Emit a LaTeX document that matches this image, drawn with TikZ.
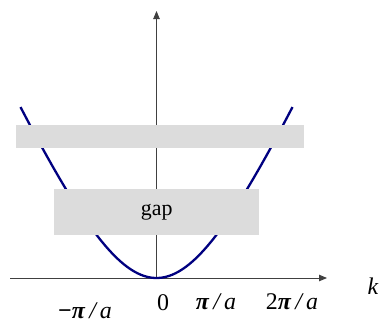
\documentclass[tikz,border=0pt]{standalone}
\usepackage{fontspec}
\setmainfont{Liberation Serif}
\usetikzlibrary{arrows.meta}
\definecolor{band}{HTML}{DCDCDC}
\definecolor{curve}{HTML}{000080}
\begin{document}
\begin{tikzpicture}[x=1bp,y=-1bp,
  axis/.style={draw=black!75,line width=0.9bp,-{Triangle[length=8bp,width=6.5bp]}},
  bandbox/.style={fill=band,draw=none,inner sep=0pt,anchor=north west},
  lbl/.style={font=\fontsize{24}{27}\selectfont,inner sep=0pt}]
\useasboundingbox (0,0) rectangle (382,325);
\coordinate (o) at (156.5,278);
\coordinate (xs) at (10,278);
\coordinate (xe) at (327,278);
\coordinate (yt) at (156.5,11);
\draw[axis] (xs) -- (xe);
\draw[axis] (o) -- (yt);
\draw[curve,line width=2.3bp,domain=-136:136,samples=80,smooth]
  plot ({156.5+\x},{278-192.8*(sqrt(1+(\x/85)^2)-1)});
\node[bandbox,minimum width=288bp,minimum height=23bp] (upper) at (16,125) {};
\node[bandbox,minimum width=205bp,minimum height=46bp] (lower) at (54,189) {};
\node[lbl,font=\fontsize{22}{25}\selectfont] (gaplbl) at (lower.center) {gap};
\node[lbl] (mpi) at (85,311) {\textbf{−}\textbf{\textit{π}}\,\textit{/\,a}};
\node[lbl] (zero) at (163,303) {0};
\node[lbl] (pi) at (216,302) {\textbf{\textit{π}}\,\textit{/\,a}};
\node[lbl] (tpi) at (292,302) {2\textbf{\textit{π}}\,\textit{/\,a}};
\node[lbl,font=\fontsize{24}{27}\selectfont] (k) at (373,286) {\textit{k}};
\end{tikzpicture}
\end{document}
